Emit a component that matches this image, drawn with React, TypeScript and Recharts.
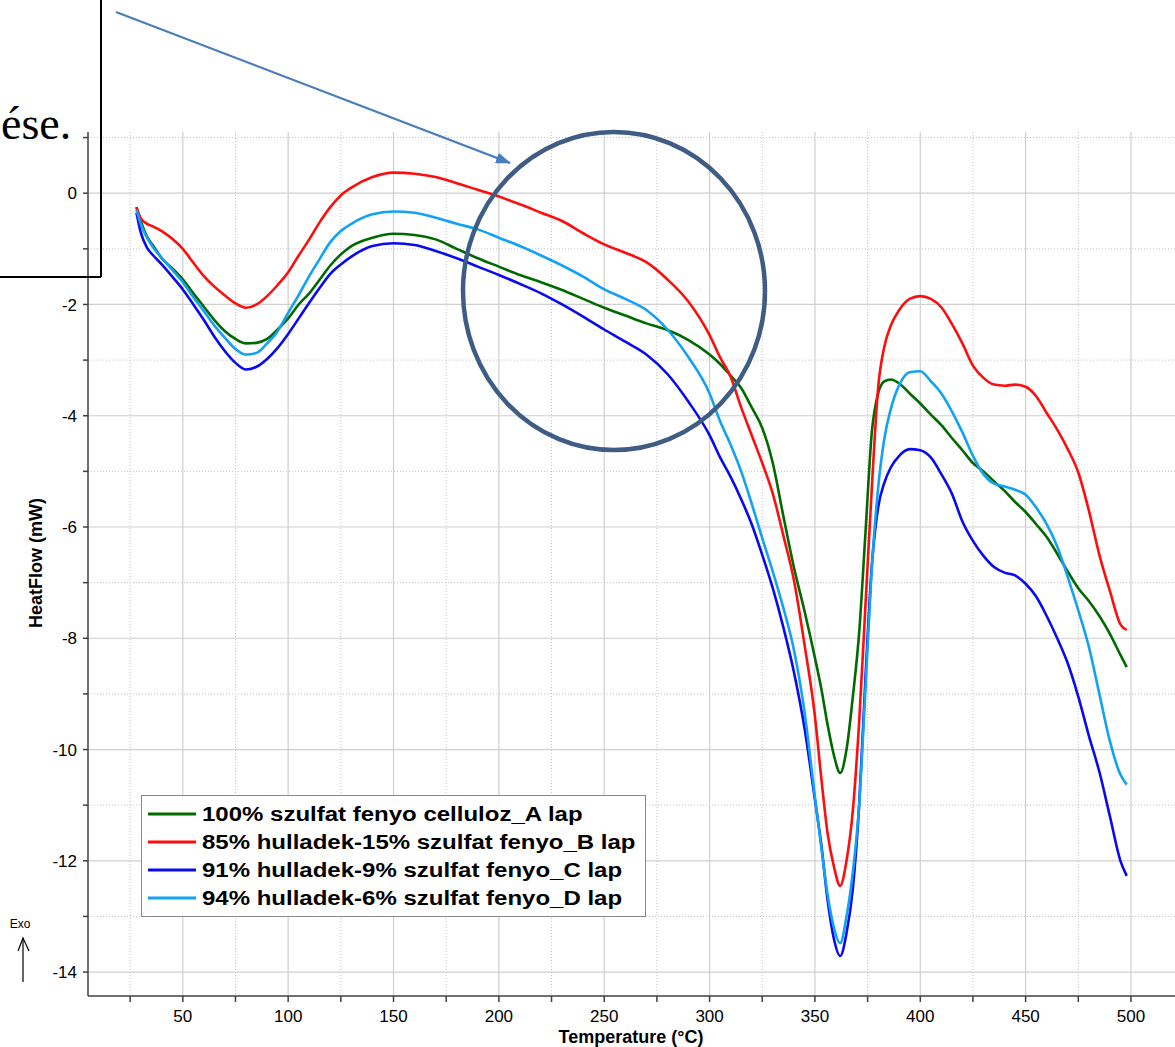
import React from 'react';
import { LineChart, Line, XAxis, YAxis, CartesianGrid, Legend } from 'recharts';

// DSC heat flow curves, temperature in °C, heat flow in mW
const temps = [
  28, 30, 33, 36, 40, 45, 50, 55, 60, 65, 70, 75, 80, 85, 90, 95, 100, 105, 110, 115, 120, 125, 130,
  140, 150, 160, 170, 180, 190, 200, 210, 220, 230, 240, 250, 260, 270, 280, 290, 300, 305, 310, 315,
  320, 325, 330, 335, 340, 345, 350, 353, 356, 359, 362, 365, 368, 371, 374, 377, 380, 383, 386, 390,
  395, 400, 405, 410, 415, 420, 425, 430, 435, 440, 445, 450, 455, 460, 465, 470, 475, 480, 485, 490,
  495, 498,
];

const lapA = [
  -0.25, -0.5, -0.78, -0.95, -1.17, -1.35, -1.55, -1.8, -2.04, -2.28, -2.48, -2.62, -2.7, -2.69, -2.62,
  -2.45, -2.25, -2.0, -1.8, -1.55, -1.3, -1.1, -0.95, -0.8, -0.73, -0.75, -0.83, -1.0, -1.17, -1.32,
  -1.47, -1.6, -1.74, -1.9, -2.06, -2.2, -2.34, -2.46, -2.64, -2.9, -3.07, -3.28, -3.5, -3.85, -4.22,
  -4.85, -5.8, -6.72, -7.5, -8.35, -8.9, -9.55, -10.1, -10.42, -10.0, -9.05, -7.9, -6.1, -4.3, -3.6,
  -3.38, -3.35, -3.42, -3.6, -3.78, -3.98, -4.17, -4.4, -4.62, -4.85, -5.0, -5.18, -5.35, -5.55, -5.73,
  -5.95, -6.18, -6.48, -6.8, -7.1, -7.33, -7.6, -7.92, -8.3, -8.52,
];

const lapB = [
  -0.25, -0.45, -0.55, -0.6, -0.68, -0.82, -1.0, -1.25, -1.49, -1.68, -1.84, -1.98, -2.06, -2.0, -1.85,
  -1.65, -1.42, -1.12, -0.83, -0.52, -0.25, -0.04, 0.1, 0.29, 0.37, 0.35, 0.29, 0.18, 0.06, -0.06, -0.2,
  -0.35, -0.5, -0.72, -0.92, -1.07, -1.24, -1.55, -1.95, -2.55, -2.95, -3.3, -3.85, -4.35, -4.85, -5.4,
  -6.15, -6.95, -8.1, -9.4, -10.5, -11.5, -12.1, -12.45, -12.0, -11.1, -9.5, -7.4, -5.3, -3.5, -2.75,
  -2.38, -2.1, -1.9, -1.85, -1.9, -2.05, -2.35, -2.7, -3.1, -3.32, -3.44, -3.46, -3.44, -3.48, -3.65,
  -3.95, -4.25, -4.6, -5.02, -5.7, -6.5, -7.15, -7.75, -7.85,
];

const lapC = [
  -0.35, -0.7, -0.98, -1.12, -1.28, -1.5, -1.73, -2.0, -2.28, -2.58, -2.84, -3.05, -3.17, -3.12, -2.98,
  -2.78, -2.53, -2.25, -1.97, -1.7, -1.45, -1.28, -1.14, -0.95, -0.9, -0.93, -1.04, -1.17, -1.32, -1.47,
  -1.63, -1.8, -2.0, -2.22, -2.45, -2.67, -2.9, -3.25, -3.75, -4.35, -4.75, -5.1, -5.5, -5.95, -6.5,
  -7.1, -7.8, -8.6, -9.6, -10.9, -11.7, -12.7, -13.4, -13.71, -13.3, -12.5, -11.0, -8.7, -6.7, -5.65,
  -5.2, -4.93, -4.72, -4.6, -4.62, -4.75, -5.05, -5.4, -5.9, -6.25, -6.52, -6.72, -6.82, -6.87, -7.02,
  -7.25, -7.6, -8.0, -8.45, -9.05, -9.75, -10.4, -11.2, -12.0, -12.27,
];

const lapD = [
  -0.3, -0.55, -0.8, -0.98, -1.16, -1.38, -1.6, -1.87, -2.12, -2.38, -2.6, -2.8, -2.9, -2.87, -2.7,
  -2.48, -2.15, -1.83, -1.49, -1.18, -0.88, -0.68, -0.55, -0.38, -0.33, -0.35, -0.44, -0.55, -0.65, -0.8,
  -0.95, -1.12, -1.3, -1.5, -1.73, -1.9, -2.1, -2.45, -2.95, -3.6, -4.1, -4.52, -5.0, -5.58, -6.2,
  -6.8, -7.45, -8.2, -9.3, -10.85, -11.75, -12.6, -13.2, -13.48, -13.0, -12.2, -11.0, -8.9, -6.73, -5.3,
  -4.4, -3.88, -3.45, -3.22, -3.2, -3.38, -3.6, -3.92, -4.3, -4.72, -5.05, -5.22, -5.27, -5.33, -5.42,
  -5.65, -5.95, -6.35, -6.9, -7.5, -8.15, -9.0, -9.85, -10.45, -10.63,
];

const seriesNames = [
  '100% szulfat fenyo celluloz_A lap',
  '85% hulladek-15% szulfat fenyo_B lap',
  '91% hulladek-9% szulfat fenyo_C lap',
  '94% hulladek-6% szulfat fenyo_D lap',
];
const seriesKeys = ['a', 'b', 'c', 'd'];
const seriesColors = ['#006a00', '#ff0d0d', '#0a0af0', '#12a2f5'];

const xTicks = [25, 50, 75, 100, 125, 150, 175, 200, 225, 250, 275, 300, 325, 350, 375, 400, 425, 450, 475, 500];
const xMajor = [50, 100, 150, 200, 250, 300, 350, 400, 450, 500];
const xMinor = [25, 75, 125, 175, 225, 275, 325, 375, 425, 475];
const yTicks = [-14, -13, -12, -11, -10, -9, -8, -7, -6, -5, -4, -3, -2, -1, 0, 1];
const yMajor = [-14, -12, -10, -8, -6, -4, -2, 0];
const yMinor = [-13, -11, -9, -7, -5, -3, -1, 1];

const data = temps.map((t, i) => ({ t, a: lapA[i], b: lapB[i], c: lapC[i], d: lapD[i] }));

const FONT = '"Liberation Sans", Arial, sans-serif';

function LegendBox({ payload }: any) {
  return (
    <div
      style={{
        border: '1px solid #8a8a8a',
        background: '#fff',
        padding: '4px 6px',
        fontFamily: FONT,
        fontWeight: 'bold',
        fontSize: 20,
        boxSizing: 'border-box',
        width: 505,
        overflow: 'hidden',
      }}
    >
      {(payload || []).map((p: any) => (
        <div key={p.value} style={{ display: 'flex', alignItems: 'center', height: 28, whiteSpace: 'nowrap' }}>
          <svg width={48} height={6} style={{ marginRight: 6, flex: 'none' }}>
            <line x1={0} y1={3} x2={48} y2={3} stroke={p.color} strokeWidth={3} />
          </svg>
          <span style={{ color: '#000', display: 'inline-block', transform: 'scaleX(1.2)', transformOrigin: 'left center' }}>
            {p.value}
          </span>
        </div>
      ))}
    </div>
  );
}

const fmtY = (v: number) => (v % 2 === 0 ? String(v) : '');
const fmtX = (v: number) => (v % 50 === 0 ? String(v) : '');

export default function App() {
  return (
    <div style={{ position: 'absolute', left: 0, top: 0, width: 1175, height: 1047, background: '#fff' }}>
      <LineChart width={1175} height={1047} data={data} margin={{ top: 132, right: 0, bottom: 11, left: 28 }}>
        <CartesianGrid stroke="#cfcfcf" strokeWidth={1.2} horizontalValues={yMajor} verticalValues={xMajor} />
        <CartesianGrid stroke="#c4c4c4" strokeDasharray="1 2" horizontalValues={yMinor} verticalValues={xMinor} />
        <XAxis
          dataKey="t"
          type="number"
          domain={[5, 520.9]}
          ticks={xTicks}
          interval={0}
          allowDataOverflow
          tickFormatter={fmtX}
          height={40}
          tickSize={6}
          tickMargin={8}
          stroke="#404040"
          strokeWidth={1.5}
          tick={{ fill: '#000', fontSize: 17, fontFamily: FONT }}
        />
        <YAxis
          type="number"
          domain={[-14.43, 1.1]}
          ticks={yTicks}
          interval={0}
          allowDataOverflow
          tickFormatter={fmtY}
          width={60}
          tickSize={5}
          tickMargin={6}
          stroke="#404040"
          strokeWidth={1.5}
          tick={{ fill: '#000', fontSize: 17, fontFamily: FONT }}
        />
        <Legend
          layout="vertical"
          align="center"
          verticalAlign="middle"
          content={<LegendBox />}
          wrapperStyle={{ left: 141, top: 795, width: 505 }}
        />
        {seriesKeys.map((k, i) => (
          <Line
            key={k}
            dataKey={k}
            name={seriesNames[i]}
            type="monotone"
            stroke={seriesColors[i]}
            strokeWidth={2.6}
            dot={false}
            activeDot={false}
            isAnimationActive={false}
          />
        ))}
      </LineChart>

      {/* axis titles, Exo marker and the slide annotations drawn above the plot */}
      <svg
        width={1175}
        height={1047}
        style={{ position: 'absolute', left: 0, top: 0, pointerEvents: 'none' }}
      >
        <defs>
          <marker id="head" markerWidth="15" markerHeight="11" refX="14" refY="5.5" orient="auto" markerUnits="userSpaceOnUse" viewBox="0 0 15 11">
            <path d="M0,0 L15,5.5 L0,11 z" fill="#4a7dbb" />
          </marker>
        </defs>
        <text
          x={631}
          y={1043}
          textAnchor="middle"
          fontFamily={FONT}
          fontWeight="bold"
          fontSize={18}
          fill="#000"
        >
          Temperature (°C)
        </text>
        <text
          x={42}
          y={563}
          textAnchor="middle"
          transform="rotate(-90 42 563)"
          fontFamily={FONT}
          fontWeight="bold"
          fontSize={18}
          fill="#000"
        >
          HeatFlow (mW)
        </text>
        <text x={20} y={928} textAnchor="middle" fontFamily={FONT} fontSize={12} fill="#000">
          Exo
        </text>
        <line x1={23} y1={982} x2={23} y2={938} stroke="#000" strokeWidth={1.2} />
        <polyline points="18,951 23,938 29,951" fill="none" stroke="#000" strokeWidth={1.2} />

        <line x1={0} y1={277} x2={101} y2={277} stroke="#000" strokeWidth={2} />
        <line x1={101} y1={0} x2={101} y2={277} stroke="#000" strokeWidth={2} />
        <text x={1} y={139} fontFamily='"Liberation Serif", "Times New Roman", serif' fontSize={46} fill="#000">
          ése.
        </text>
        <line x1={116} y1={12} x2={510} y2={163} stroke="#4a7dbb" strokeWidth={2.2} markerEnd="url(#head)" />
        <ellipse cx={614} cy={291} rx={151} ry={159} fill="none" stroke="#3e5c84" strokeWidth={4.5} />
      </svg>
    </div>
  );
}
